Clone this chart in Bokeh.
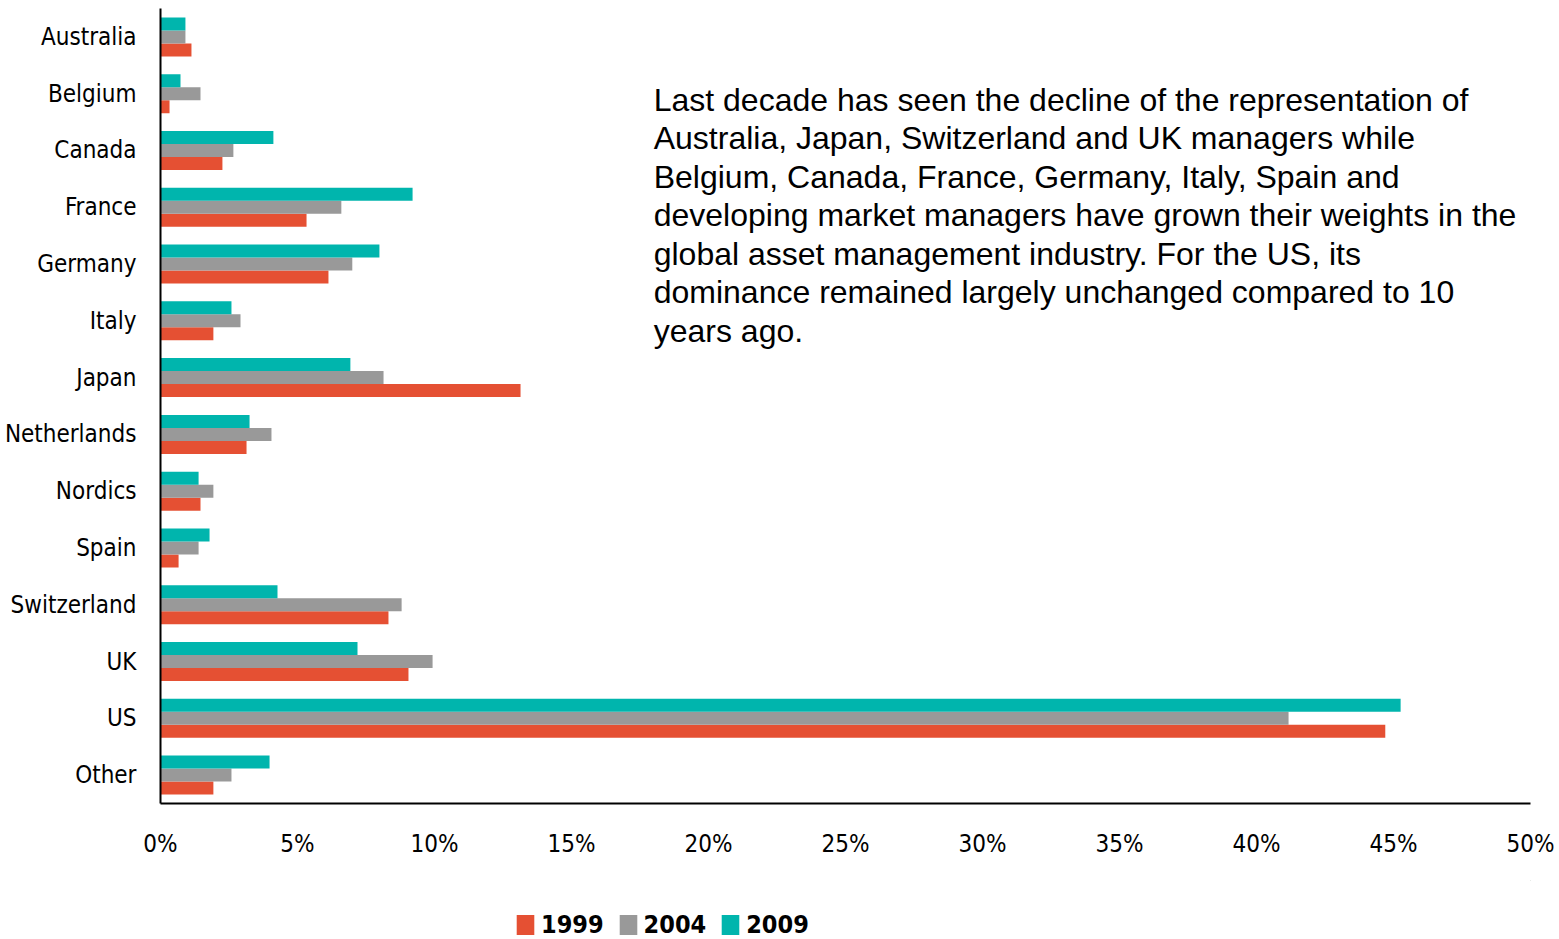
from bokeh.plotting import figure
from bokeh.models import (FactorRange, Range1d, Label, Legend, LegendItem,
                          FixedTicker, ColumnDataSource)
from bokeh.layouts import column
from bokeh.transform import dodge
from bokeh.embed import file_html
from bokeh.resources import INLINE

categories = ["Australia", "Belgium", "Canada", "France", "Germany", "Italy", "Japan",
              "Netherlands", "Nordics", "Spain", "Switzerland", "UK", "US", "Other"]
share_1999 = [1.13, 0.33, 2.26, 5.33, 6.13, 1.93, 13.14, 3.14, 1.46, 0.66, 8.32, 9.05, 44.70, 1.93]
share_2004 = [0.91, 1.46, 2.66, 6.60, 7.00, 2.92, 8.14, 4.05, 1.93, 1.39, 8.80, 9.93, 41.17, 2.59]
share_2009 = [0.91, 0.73, 4.12, 9.20, 7.99, 2.59, 6.93, 3.25, 1.39, 1.79, 4.27, 7.19, 45.26, 3.98]
years = ["1999", "2004", "2009"]
x_ticks = [0, 5, 10, 15, 20, 25, 30, 35, 40, 45, 50]
x_tick_labels = ["0%", "5%", "10%", "15%", "20%", "25%", "30%", "35%", "40%", "45%", "50%"]
note_lines = [
    "Last decade has seen the decline of the representation of",
    "Australia, Japan, Switzerland and UK managers while",
    "Belgium, Canada, France, Germany, Italy, Spain and",
    "developing market managers have grown their weights in the",
    "global asset management industry.  For the US, its",
    "dominance remained largely unchanged compared to 10",
    "years ago.",
]

colors = {"1999": "#E55033", "2004": "#999999", "2009": "#00B5AD"}
NARROW = "DejaVu Sans Condensed"
SANS = "Liberation Sans"

src = ColumnDataSource(dict(cat=categories, y1999=share_1999, y2004=share_2004, y2009=share_2009))

p = figure(width=1559, height=880, output_backend="svg", toolbar_location=None,
           y_range=FactorRange(factors=list(reversed(categories)), range_padding=0),
           x_range=Range1d(0, 50), title=None)
p.min_border_left = 160
p.min_border_right = 29
p.min_border_top = 8
p.min_border_bottom = 77
p.outline_line_color = None
p.background_fill_color = "white"
p.border_fill_color = "white"
p.grid.visible = False

bh = 0.229
p.hbar(y=dodge("cat", -bh, range=p.y_range), right="y1999", left=0, height=bh,
       source=src, fill_color=colors["1999"], line_color=None)
p.hbar(y=dodge("cat", 0, range=p.y_range), right="y2004", left=0, height=bh,
       source=src, fill_color=colors["2004"], line_color=None)
p.hbar(y=dodge("cat", bh, range=p.y_range), right="y2009", left=0, height=bh,
       source=src, fill_color=colors["2009"], line_color=None)

p.xaxis.ticker = FixedTicker(ticks=x_ticks)
p.xaxis.major_label_overrides = {t: l for t, l in zip(x_ticks, x_tick_labels)}
for ax in (p.xaxis[0], p.yaxis[0]):
    ax.axis_line_width = 2
    ax.axis_line_color = "black"
    ax.major_tick_line_color = None
    ax.minor_tick_line_color = None
    ax.major_label_text_font = NARROW
    ax.major_label_text_font_size = "24px"
    ax.major_label_text_color = "black"
p.xaxis.major_label_standoff = 20
p.yaxis.major_label_standoff = 18

for i, line in enumerate(note_lines):
    p.add_layout(Label(x=18.0, y=704 - i * 38.5, x_units="data", y_units="screen",
                       text=line, text_font=SANS, text_font_size="32px",
                       text_color="black", text_baseline="alphabetic"))

# legend strip below the chart (its frame is aligned with the chart's frame)
lg = figure(width=1559, height=59, output_backend="svg", toolbar_location=None,
            x_range=Range1d(0, 1), y_range=Range1d(0, 1), title=None)
lg.min_border_left = 160
lg.min_border_right = 29
lg.min_border_top = 0
lg.min_border_bottom = 0
lg.axis.visible = False
lg.grid.visible = False
lg.outline_line_color = None
items = []
for yr in years:
    r = lg.hbar(y=[5], right=[5], left=4, height=0.1, fill_color=colors[yr], line_color=None)
    items.append(LegendItem(label=yr, renderers=[r]))
legend = Legend(items=items, orientation="horizontal", location=(354, 0),
                glyph_width=22, glyph_height=25, label_standoff=5, spacing=13,
                padding=0, margin=0, border_line_color=None,
                background_fill_alpha=0, label_text_color="black",
                label_text_font=NARROW, label_text_font_style="bold",
                label_text_font_size="25px")
lg.add_layout(legend)

layout = column(p, lg, spacing=0)
open("out.html", "w").write(file_html(layout, INLINE))
